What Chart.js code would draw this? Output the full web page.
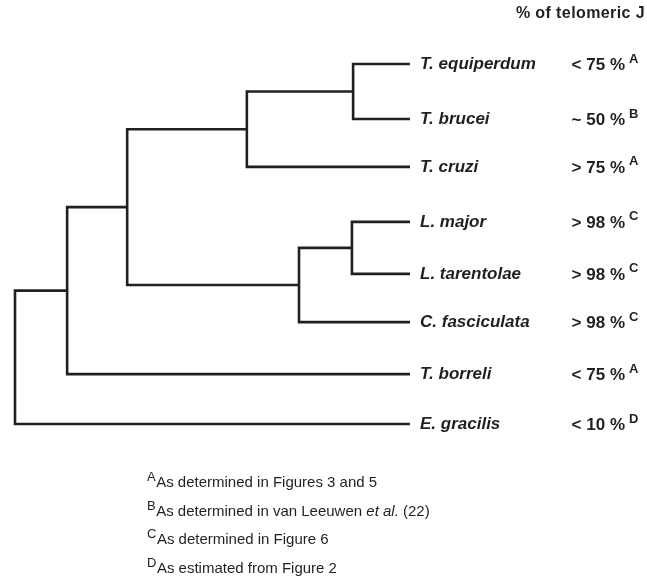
<!DOCTYPE html>
<html>
<head>
<meta charset="utf-8">
<script src="https://cdn.jsdelivr.net/npm/chart.js@4"></script>
<style>
    body { margin: 0; background: #fff; }
    #wrap { position: relative; width: 647px; height: 578px; font-family: "Liberation Sans", Arial, sans-serif; color: #231f20; }
    #wrap canvas { position: absolute; left: 0; top: 0; }
    .kopf { position: absolute; right: 2px; top: 4px; font-size: 16px; font-weight: bold; line-height: 18px; letter-spacing: 0.4px; }
    .fuss { position: absolute; left: 147px; font-size: 15px; line-height: 17px; white-space: nowrap; }
    .fuss .hoch { font-size: 13px; position: relative; top: -6px; margin-right: 0.5px; }
</style>
</head>
<body>
<div id="wrap">
    <canvas id="baum" width="647" height="578"></canvas>
    <div class="kopf">% of telomeric J</div>
    <div class="fuss" style="top:473px"><span class="hoch">A</span>As determined in Figures 3 and 5</div>
    <div class="fuss" style="top:502px"><span class="hoch">B</span>As determined in van Leeuwen <i>et al.</i> (22)</div>
    <div class="fuss" style="top:530px"><span class="hoch">C</span>As determined in Figure 6</div>
    <div class="fuss" style="top:559px"><span class="hoch">D</span>As estimated from Figure 2</div>
</div>
<script>
// Blätter (von oben nach unten) und ihre Zeilen
const arten = ['T. equiperdum', 'T. brucei', 'T. cruzi', 'L. major', 'L. tarentolae', 'C. fasciculata', 'T. borreli', 'E. gracilis'];
const anteile = ['< 75 %', '~ 50 %', '> 75 %', '> 98 %', '> 98 %', '> 98 %', '< 75 %', '< 10 %'];
const quellen = ['A', 'B', 'A', 'C', 'C', 'C', 'A', 'D'];
const zeilen = [0, 1.07, 2.0, 3.07, 4.08, 5.02, 6.03, 7.0];
const blattTiefe = 100;

// innere Knoten: Tiefe (Abstand von der Wurzel) und Kinder
// Kinder: Zahl = Blatt-Index, 'n..' = anderer Knoten
const knotenNamen = ['wurzel', 'n1', 'n2', 'n3', 'n4', 'n5', 'n6'];
const knotenTiefe = [0, 13.2, 28.4, 58.7, 85.6, 71.9, 85.3];
const knotenKinder = [
    ['n1', 7],
    ['n2', 6],
    ['n3', 'n5'],
    ['n4', 2],
    [0, 1],
    ['n6', 5],
    [3, 4]
];

const farbe = '#231f20';

function lage(kind) {
    if (typeof kind === 'number') return { x: blattTiefe, y: zeilen[kind] };
    const i = knotenNamen.indexOf(kind);
    const k = knotenKinder[i].map(lage);
    return { x: knotenTiefe[i], y: (k[0].y + k[1].y) / 2 };
}

const datensaetze = knotenNamen.map((name, i) => {
    const x = knotenTiefe[i];
    const [a, b] = knotenKinder[i].map(lage);
    return {
        data: [{ x: a.x, y: a.y }, { x: x, y: a.y }, { x: x, y: b.y }, { x: b.x, y: b.y }],
        borderColor: farbe,
        borderWidth: 2.6,
        pointRadius: 0,
        showLine: true,
        fill: false,
        tension: 0,
        borderJoinStyle: 'miter',
        borderCapStyle: 'butt',
        clip: false
    };
});

const beschriftung = {
    id: 'beschriftung',
    afterDraw(chart) {
        const ctx = chart.ctx;
        const xs = chart.scales.x, ys = chart.scales.y;
        const x0 = xs.getPixelForValue(blattTiefe);
        ctx.save();
        ctx.fillStyle = farbe;
        ctx.textBaseline = 'middle';
        arten.forEach((art, i) => {
            const y = ys.getPixelForValue(zeilen[i]);
            ctx.font = 'italic bold 17px "Liberation Sans", Arial, sans-serif';
            ctx.textAlign = 'left';
            ctx.fillText(art, x0 + 10, y);
            ctx.font = 'bold 17px "Liberation Sans", Arial, sans-serif';
            ctx.textAlign = 'right';
            ctx.fillText(anteile[i], 625, y + 1);
            ctx.font = 'bold 13px "Liberation Sans", Arial, sans-serif';
            ctx.textAlign = 'left';
            ctx.fillText(quellen[i], 629, y - 5);
        });
        ctx.restore();
    }
};

new Chart(document.getElementById('baum').getContext('2d'), {
    type: 'scatter',
    data: { datasets: datensaetze },
    options: {
        responsive: false,
        animation: false,
        layout: { padding: { left: 15, right: 237, top: 64, bottom: 154 } },
        plugins: {
            legend: { display: false },
            tooltip: { enabled: false }
        },
        scales: {
            x: { type: 'linear', min: 0, max: 100, display: false },
            y: { type: 'linear', min: 0, max: 7, reverse: true, display: false }
        }
    },
    plugins: [beschriftung]
});
</script>
</body>
</html>
